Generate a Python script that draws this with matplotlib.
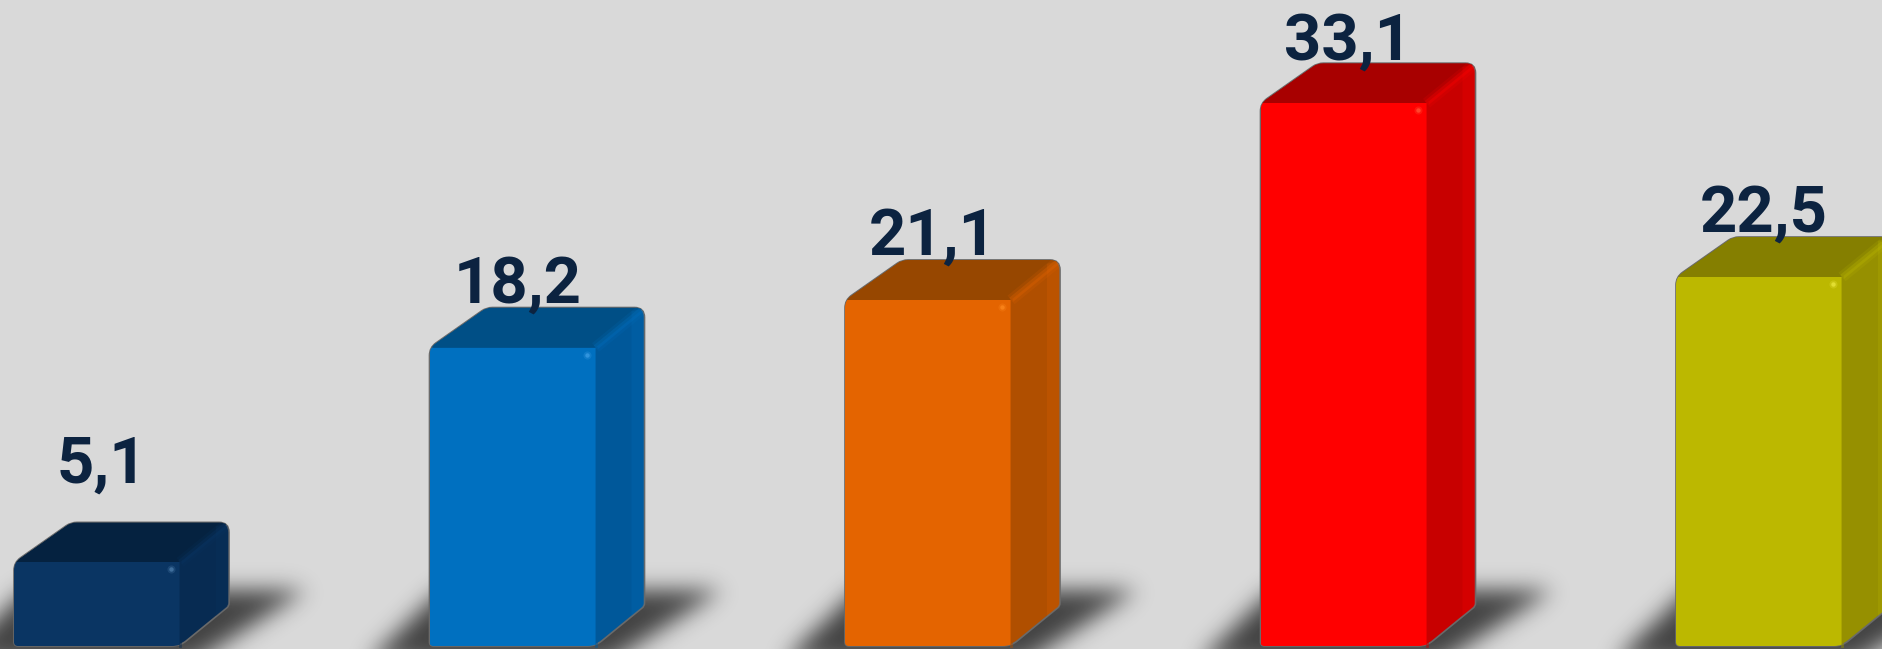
import numpy as np
import matplotlib
matplotlib.use('Agg')
import matplotlib.pyplot as plt
from matplotlib.path import Path
from matplotlib.patches import PathPatch

# chart data
values = [5.1, 18.2, 21.1, 33.1, 22.5]
value_labels = ['5,1', '18,2', '21,1', '33,1', '22,5']
front_colors = ['#0a3563', '#0070c0', '#e46400', '#ff0000', '#bcb800']
top_colors = ['#052240', '#004f86', '#974700', '#a80000', '#857f00']
side_colors = ['#072b52', '#00589a', '#b04f00', '#c80000', '#969000']
glow_colors = ['#4f7fae', '#3f9fe6', '#ff8a1f', '#ff5a3a', '#eeea40']

W, H = 1882, 649
STEP = 415.5     # px between bars
UNIT = 16.4      # px per value unit
CENTER0 = 97     # px centre of first bar
BASE = 646       # px of value 0, from the top
BAR_W = 166
DEPTH_X = 49
DEPTH_Y = 40
BACK_INSET = 8   # back left corner sits a little further in
TEXT_COLOR = '#0c2340'

half_w = BAR_W / 2 / STEP
dx = DEPTH_X / STEP
dy = DEPTH_Y / UNIT
inset = BACK_INSET / STEP


def rounded(points, radius):
    # closed polygon with rounded corners, points in data units, radius in px
    scale = np.array([STEP, UNIT])
    verts, codes = [], []
    n = len(points)
    for i in range(n):
        p = np.array(points[i], float) * scale
        a = np.array(points[i - 1], float) * scale
        b = np.array(points[(i + 1) % n], float) * scale
        p1 = p + (a - p) / np.linalg.norm(a - p) * radius[i]
        p2 = p + (b - p) / np.linalg.norm(b - p) * radius[i]
        verts += [p1, p, p2]
        codes += [Path.LINETO, Path.CURVE3, Path.CURVE3]
    codes[0] = Path.MOVETO
    verts.append(verts[0])
    codes.append(Path.CLOSEPOLY)
    return Path(np.array(verts) / scale, codes)


def shadow_layer():
    # soft shadow on the floor behind each bar, blurred with an fft gaussian
    pad = 80
    yy, xx = np.mgrid[-pad:H + pad, -pad:W + pad]
    grid = np.column_stack([xx.ravel() + 0.5, yy.ravel() + 0.5])
    mask = np.zeros(xx.shape)
    for i in range(len(values)):
        x0 = CENTER0 + i * STEP - BAR_W / 2
        poly = Path([(x0 - 62, BASE + 16), (x0 + 12, 590), (x0 + 292, 590), (x0 + 180, BASE + 16)])
        mask[poly.contains_points(grid).reshape(xx.shape)] = 1
    fy = np.fft.fftfreq(mask.shape[0])[:, None]
    fx = np.fft.rfftfreq(mask.shape[1])[None, :]
    sigma = 11
    kernel = np.exp(-2 * (np.pi * sigma) ** 2 * (fx ** 2 + fy ** 2))
    blur = np.fft.irfft2(np.fft.rfft2(mask) * kernel, s=mask.shape)
    blur = np.clip(blur, 0, 1)[pad:-pad, pad:-pad]
    rgba = np.zeros((H, W, 4))
    rgba[..., 3] = blur * 0.7
    return rgba


fig = plt.figure(figsize=(W / 100, H / 100), dpi=100, facecolor='#d9d9d9')
ax = fig.add_axes([0, 0, 1, 1])
xlim = (-CENTER0 / STEP, (W - CENTER0) / STEP)
ylim = ((BASE - H) / UNIT, BASE / UNIT)
ax.imshow(shadow_layer(), extent=[*xlim, *ylim], aspect='auto', origin='upper', zorder=1)
ax.set_xlim(xlim)
ax.set_ylim(ylim)
ax.axis('off')

for i, val in enumerate(values):
    left, right = i - half_w, i + half_w
    z = 2 + i

    # whole silhouette first, its rounded outline also clips the faces
    outline = [(left, 0), (left, val), (left + dx + inset, val + dy), (right + dx, val + dy), (right + dx, dy),
               (right, 0)]
    corners = [4, 8, 6, 10, 3, 8]
    ax.add_patch(PathPatch(rounded(outline, corners), facecolor=side_colors[i], edgecolor='#6a6a6a',
                           lw=1.2, zorder=z))
    clip = PathPatch(rounded(outline, corners), transform=ax.transData)

    top_face = ax.fill([left, left + dx + inset, right + dx, right], [val, val + dy, val + dy, val],
                       color=top_colors[i], lw=0, zorder=z + 0.1)[0]
    top_face.set_clip_path(clip)

    # lighter strip at the far edge of the side face
    strip = ax.fill([right + dx - 13 / STEP, right + dx, right + dx, right + dx - 13 / STEP],
                    [val + dy - 4 / UNIT, val + dy, dy, dy - 10 / UNIT],
                    color=front_colors[i], alpha=0.22, lw=0, zorder=z + 0.15)[0]
    strip.set_clip_path(clip)

    # bevel along the ridge between top and side
    for lw, a in [(8, 0.16), (4, 0.3)]:
        ridge, = ax.plot([right, right + dx], [val, val + dy], color=front_colors[i], lw=lw, alpha=a,
                         zorder=z + 0.2, solid_capstyle='butt')
        ridge.set_clip_path(clip)

    # front face
    bar = ax.bar(i, val, width=BAR_W / STEP, color=front_colors[i], zorder=z + 0.3)[0]
    bar.set_clip_path(clip)
    ax.plot([right, right], [0, val], color=side_colors[i], lw=2, alpha=0.5, zorder=z + 0.35)

    # little highlight near the front top corner
    for size, a in [(34, 0.25), (10, 0.7)]:
        ax.scatter(right - 9 / STEP, val - 7 / UNIT, s=size, color=glow_colors[i], alpha=a,
                   linewidths=0, zorder=z + 0.4)

# value labels, placed relative to the top of each bar
label_gap = [40, 5, 5, 4, 5]
for i, (val, lab) in enumerate(zip(values, value_labels)):
    ax.text(i + 5 / STEP, val + dy + label_gap[i] / UNIT, lab, ha='center', va='baseline',
            fontsize=47, family='Roboto', fontweight='bold', color=TEXT_COLOR, zorder=20)

fig.savefig('out.png', dpi=100, facecolor=fig.get_facecolor())
plt.close(fig)
